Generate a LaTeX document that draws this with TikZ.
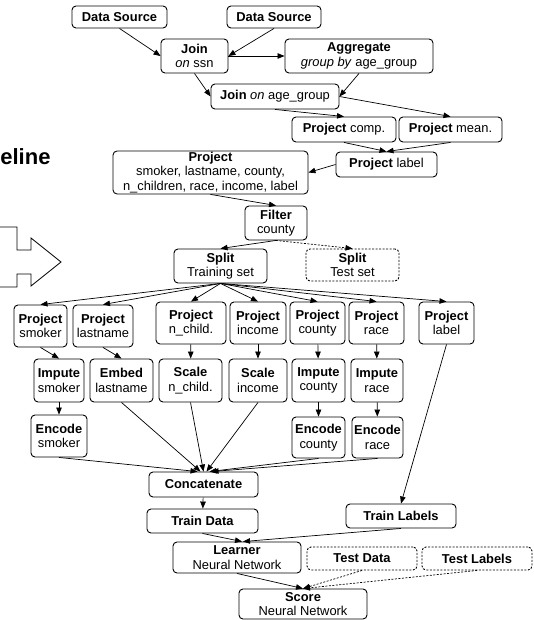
\documentclass[tikz,border=0pt]{standalone}
\usepackage{fontspec}
\setmainfont{Liberation Sans}
\usetikzlibrary{arrows.meta}

\begin{document}
\begin{tikzpicture}[x=1pt,y=-1pt,->,>={Triangle[length=7pt,width=5.5pt]},line width=0.7pt,
    op node/.style={draw,rounded corners=4pt,align=center,inner sep=1pt,line width=0.9pt,font=\fontsize{12.9}{14.5}\selectfont},
    test node/.style={op node,dash pattern=on 2pt off 1.5pt},
    test edge/.style={dash pattern=on 2pt off 1.5pt}]
   \useasboundingbox (0,0) rectangle (533,620);
   % left side, cut off
   \node[anchor=base west,inner sep=0pt,font=\fontsize{22}{24}\selectfont\bfseries] (title) at (0,165) {eline};
   \draw[-,line width=0.8pt] (0,227) -- (17,227) -- (17,250) -- (31,250) -- (31,238) -- (61,262)
      -- (31,286) -- (31,274) -- (17,274) -- (17,287) -- (0,287);
   % sources and joins
   \node[op node,minimum width=95pt,minimum height=22pt] (ds1) at (119.5,17) {\textbf{Data Source}};
   \node[op node,minimum width=94pt,minimum height=22pt] (ds2) at (274,17) {\textbf{Data Source}};
   \node[op node,minimum width=67pt,minimum height=34pt] (joinssn) at (194.5,56) {\textbf{Join}\\\textit{on} ssn};
   \node[op node,minimum width=148pt,minimum height=34pt] (agg) at (359,56) {\textbf{Aggregate}\\\textit{group by} age\_group};
   \node[op node,minimum width=128pt,minimum height=25pt] (joinage) at (275,96.5) {\textbf{Join} \textit{on} age\_group};
   \node[op node,minimum width=104pt,minimum height=25pt] (projcomp) at (344,129.5) {\textbf{Project} comp.};
   \node[op node,minimum width=103pt,minimum height=25pt] (projmean) at (450.5,129.5) {\textbf{Project} mean.};
   \node[op node,minimum width=101pt,minimum height=25pt] (projlabel) at (386.5,164.5) {\textbf{Project} label};
   \node[op node,minimum width=195pt,minimum height=41pt] (projall) at (210.5,172.5) {\textbf{Project}\\smoker, lastname, county,\\n\_children, race, income, label};
   \node[op node,minimum width=62pt,minimum height=34pt] (filter) at (276,223) {\textbf{Filter}\\county};
   \node[op node,minimum width=93pt,minimum height=34pt] (split) at (220.5,266) {\textbf{Split}\\Training set};
   \node[test node,minimum width=93pt,minimum height=32pt] (splittest) at (352.5,265) {\textbf{Split}\\Test set};
   % one column per feature
   \node[op node,minimum width=53pt,minimum height=42pt] (psmoker) at (40.5,326) {\textbf{Project}\\smoker};
   \node[op node,minimum width=60pt,minimum height=42pt] (plastname) at (103,326) {\textbf{Project}\\lastname};
   \node[op node,minimum width=70pt,minimum height=42pt] (pnchild) at (191,323) {\textbf{Project}\\n\_child.};
   \node[op node,minimum width=56pt,minimum height=42pt] (pincome) at (258,323) {\textbf{Project}\\income};
   \node[op node,minimum width=55pt,minimum height=42pt] (pcounty) at (317.5,323) {\textbf{Project}\\county};
   \node[op node,minimum width=55pt,minimum height=42pt] (prace) at (376.5,323) {\textbf{Project}\\race};
   \node[op node,minimum width=55pt,minimum height=42pt] (plabel) at (446.5,323) {\textbf{Project}\\label};
   \node[op node,minimum width=50pt,minimum height=43pt] (ismoker) at (59,380.5) {\textbf{Impute}\\smoker};
   \node[op node,minimum width=63pt,minimum height=43pt] (elastname) at (121.5,380.5) {\textbf{Embed}\\lastname};
   \node[op node,minimum width=63pt,minimum height=43pt] (snchild) at (190.5,380.5) {\textbf{Scale}\\n\_child.};
   \node[op node,minimum width=58pt,minimum height=43pt] (sincome) at (258,380.5) {\textbf{Scale}\\income};
   \node[op node,minimum width=53pt,minimum height=43pt] (icounty) at (318.5,380.5) {\textbf{Impute}\\county};
   \node[op node,minimum width=52pt,minimum height=43pt] (irace) at (377,380.5) {\textbf{Impute}\\race};
   \node[op node,minimum width=56pt,minimum height=42pt] (esmoker) at (59,436) {\textbf{Encode}\\smoker};
   \node[op node,minimum width=53pt,minimum height=41pt] (ecounty) at (318.5,437.5) {\textbf{Encode}\\county};
   \node[op node,minimum width=51pt,minimum height=41pt] (erace) at (377.5,437.5) {\textbf{Encode}\\race};
   % training and scoring
   \node[op node,minimum width=109pt,minimum height=25pt] (concat) at (203.5,484.5) {\textbf{Concatenate}};
   \node[op node,minimum width=111pt,minimum height=24pt] (traindata) at (202.5,521) {\textbf{Train Data}};
   \node[op node,minimum width=110pt,minimum height=24pt] (trainlabels) at (401,516) {\textbf{Train Labels}};
   \node[op node,minimum width=128pt,minimum height=31pt] (learner) at (237,557.5) {\textbf{Learner}\\Neural Network};
   \node[test node,minimum width=110pt,minimum height=23pt] (testdata) at (362,558.5) {\textbf{Test Data}};
   \node[test node,minimum width=110pt,minimum height=23pt] (testlabels) at (477,558.5) {\textbf{Test Labels}};
   \node[op node,minimum width=128pt,minimum height=30pt] (score) at (303,604) {\textbf{Score}\\Neural Network};

   \path (ds1.south) edge (joinssn.west);
   \path (ds2.south) edge (joinssn.east);
   \path (joinssn.east) edge (agg.west);
   \path (joinssn.south) edge (joinage.west);
   \path (agg.south) edge (joinage.east);
   \path (joinage.south) edge (projcomp.north);
   \path (joinage.east) edge (projmean.north);
   \path (projcomp.south) edge (projlabel.north);
   \path (projmean.south) edge (projlabel.north);
   \path (projlabel.west) edge (projall.east);
   \path (projall.south) edge (filter.north);
   \path (filter.south) edge (split.north);
   \path[test edge] (filter.south) edge (splittest.north);
   \foreach \p in {psmoker,plastname,pnchild,pincome,pcounty,prace,plabel}
      \path (split.south) edge (\p.north);
   \path (psmoker.south) edge (ismoker.north);
   \path (plastname.south) edge (elastname.north);
   \path (pnchild) edge (snchild);
   \path (pincome) edge (sincome);
   \path (pcounty) edge (icounty);
   \path (prace) edge (irace);
   \path (ismoker) edge (esmoker);
   \path (icounty) edge (ecounty);
   \path (irace) edge (erace);
   % fan-in, heads spread a little over the top of concat
   \foreach \q/\dx in {esmoker/-6,elastname/-3,snchild/0,sincome/3,ecounty/6,erace/8}
      \path (\q.south) edge ([xshift=\dx pt]concat.north);
   \path (plabel.south) edge (trainlabels.north);
   \path (concat) edge (traindata);
   \path (traindata.south) edge ([xshift=5pt]learner.north);
   \path (trainlabels.south) edge ([xshift=6pt]learner.north);
   \path (learner.south) edge (score.north);
   \path[test edge] (testdata.south) edge (score.north);
   \path[test edge] (testlabels.south) edge (score.north);
\end{tikzpicture}
\end{document}
